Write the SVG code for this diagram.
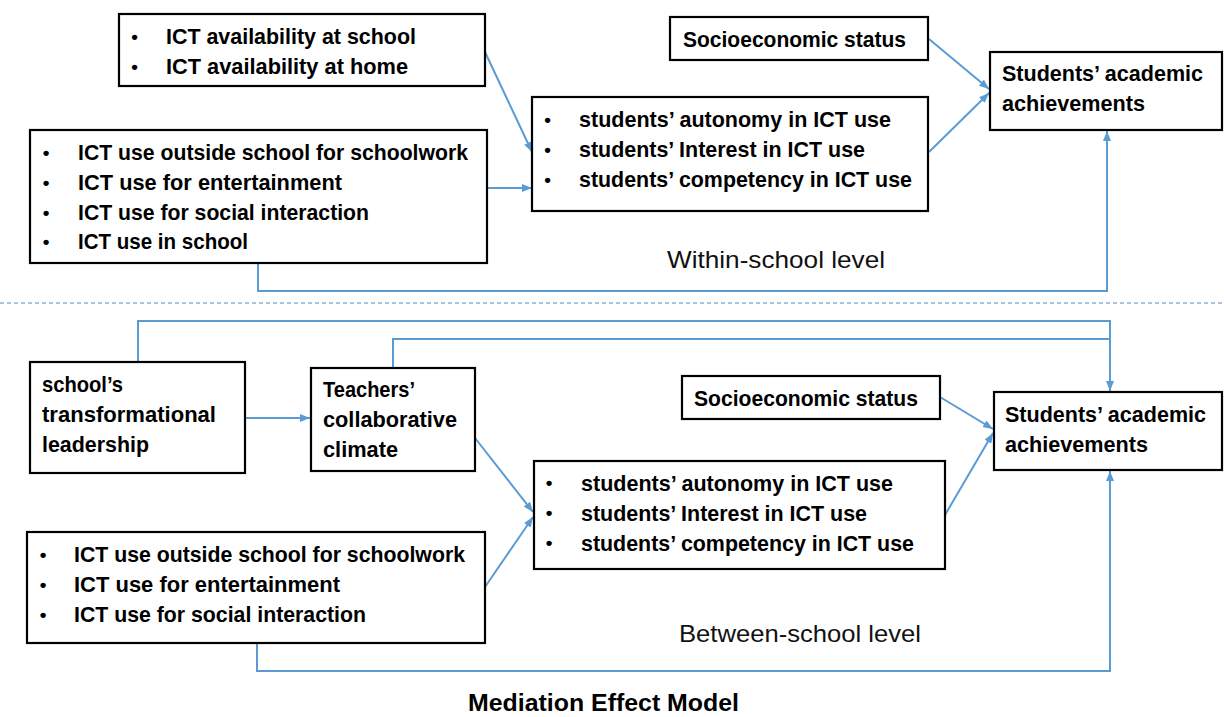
<svg xmlns="http://www.w3.org/2000/svg" width="1224" height="717" viewBox="0 0 1224 717">
<defs>
<style>
.box{fill:#fff;stroke:#000;stroke-width:2.2}
.t{font-family:"Liberation Sans",Arial,sans-serif;font-weight:bold;font-size:22px;fill:#000}
.b{font-family:"Liberation Sans",Arial,sans-serif;font-weight:bold;font-size:19px;fill:#000;text-anchor:middle}
.lvl{font-family:"Liberation Sans",Arial,sans-serif;font-size:24px;fill:#111}
.title{font-family:"Liberation Sans",Arial,sans-serif;font-weight:bold;font-size:23px;fill:#000}
.c{fill:none;stroke:#5B9BD5;stroke-width:2}
.ca{fill:none;stroke:#5B9BD5;stroke-width:2;marker-end:url(#ah)}
</style>
<marker id="ah" markerUnits="userSpaceOnUse" markerWidth="10" markerHeight="8" refX="10" refY="4" orient="auto">
<path d="M0,0 L10,4 L0,8 z" fill="#5B9BD5"/>
</marker>
</defs>
<rect width="1224" height="717" fill="#fff"/>

<line x1="0" y1="303" x2="1224" y2="303" stroke="#8FB0D8" stroke-width="1.5" stroke-dasharray="4 3"/>

<g id="connectors">
<line class="ca" x1="485" y1="52" x2="532" y2="152"/>
<line class="ca" x1="487" y1="188" x2="532" y2="188"/>
<line class="ca" x1="929" y1="39" x2="989" y2="89"/>
<line class="ca" x1="929" y1="152" x2="989" y2="93"/>
<path class="ca" d="M258,263 V291 H1107 V131"/>

<path class="ca" d="M138,362 V321 H1110 V391"/>
<path class="c" d="M393,368 V339 H1110"/>
<line class="ca" x1="245" y1="418" x2="310" y2="418"/>
<line class="ca" x1="475" y1="438" x2="533" y2="512"/>
<line class="ca" x1="485" y1="587" x2="533" y2="517"/>
<line class="ca" x1="940" y1="397" x2="993" y2="429"/>
<line class="ca" x1="945" y1="515" x2="993" y2="433"/>
<path class="ca" d="M257,643 V671 H1110 V471"/>
</g>

<g id="ict-availability">
<rect class="box" x="119" y="14" width="366" height="72"/>
<text class="b" x="134.5" y="43">•</text>
<text class="t" x="166" y="44" textLength="250" lengthAdjust="spacingAndGlyphs">ICT availability at school</text>
<text class="b" x="134.5" y="73">•</text>
<text class="t" x="166" y="74" textLength="242" lengthAdjust="spacingAndGlyphs">ICT availability at home</text>
</g>

<g id="ict-use-within">
<rect class="box" x="30" y="130" width="457" height="133"/>
<text class="b" x="46" y="159">•</text>
<text class="t" x="78" y="160" textLength="390" lengthAdjust="spacingAndGlyphs">ICT use outside school for schoolwork</text>
<text class="b" x="46" y="189">•</text>
<text class="t" x="78" y="190" textLength="264" lengthAdjust="spacingAndGlyphs">ICT use for entertainment</text>
<text class="b" x="46" y="219">•</text>
<text class="t" x="78" y="220" textLength="291" lengthAdjust="spacingAndGlyphs">ICT use for social interaction</text>
<text class="b" x="46" y="248">•</text>
<text class="t" x="78" y="249" textLength="170" lengthAdjust="spacingAndGlyphs">ICT use in school</text>
</g>

<g id="students-ict-within">
<rect class="box" x="532" y="97" width="396" height="114"/>
<text class="b" x="547.5" y="126">•</text>
<text class="t" x="579" y="127" textLength="312" lengthAdjust="spacingAndGlyphs">students’ autonomy in ICT use</text>
<text class="b" x="547.5" y="156">•</text>
<text class="t" x="579" y="157" textLength="286" lengthAdjust="spacingAndGlyphs">students’ Interest in ICT use</text>
<text class="b" x="547.5" y="186">•</text>
<text class="t" x="579" y="187" textLength="333" lengthAdjust="spacingAndGlyphs">students’ competency in ICT use</text>
</g>

<g id="ses-within">
<rect class="box" x="670" y="17" width="258" height="43"/>
<text class="t" x="683" y="47" textLength="223" lengthAdjust="spacingAndGlyphs">Socioeconomic status</text>
</g>

<g id="achievement-within">
<rect class="box" x="990" y="52" width="232" height="78"/>
<text class="t" x="1002" y="81" textLength="201" lengthAdjust="spacingAndGlyphs">Students’ academic</text>
<text class="t" x="1002" y="111" textLength="143" lengthAdjust="spacingAndGlyphs">achievements</text>
</g>

<text class="lvl" x="667" y="268" textLength="218" lengthAdjust="spacingAndGlyphs">Within-school level</text>

<g id="leadership">
<rect class="box" x="30" y="362" width="215" height="111"/>
<text class="t" x="42" y="392" textLength="81" lengthAdjust="spacingAndGlyphs">school’s</text>
<text class="t" x="42" y="422" textLength="174" lengthAdjust="spacingAndGlyphs">transformational</text>
<text class="t" x="42" y="452" textLength="107" lengthAdjust="spacingAndGlyphs">leadership</text>
</g>

<g id="teachers">
<rect class="box" x="311" y="368" width="164" height="103"/>
<text class="t" x="323" y="397" textLength="92" lengthAdjust="spacingAndGlyphs">Teachers’</text>
<text class="t" x="323" y="427" textLength="134" lengthAdjust="spacingAndGlyphs">collaborative</text>
<text class="t" x="323" y="457" textLength="75" lengthAdjust="spacingAndGlyphs">climate</text>
</g>

<g id="ict-use-between">
<rect class="box" x="27" y="532" width="458" height="111"/>
<text class="b" x="43" y="561">•</text>
<text class="t" x="74" y="562" textLength="391" lengthAdjust="spacingAndGlyphs">ICT use outside school for schoolwork</text>
<text class="b" x="43" y="591">•</text>
<text class="t" x="74" y="592" textLength="266" lengthAdjust="spacingAndGlyphs">ICT use for entertainment</text>
<text class="b" x="43" y="621">•</text>
<text class="t" x="74" y="622" textLength="292" lengthAdjust="spacingAndGlyphs">ICT use for social interaction</text>
</g>

<g id="students-ict-between">
<rect class="box" x="534" y="461" width="411" height="108"/>
<text class="b" x="549" y="489">•</text>
<text class="t" x="581" y="491" textLength="312" lengthAdjust="spacingAndGlyphs">students’ autonomy in ICT use</text>
<text class="b" x="549" y="519">•</text>
<text class="t" x="581" y="521" textLength="286" lengthAdjust="spacingAndGlyphs">students’ Interest in ICT use</text>
<text class="b" x="549" y="549">•</text>
<text class="t" x="581" y="551" textLength="333" lengthAdjust="spacingAndGlyphs">students’ competency in ICT use</text>
</g>

<g id="ses-between">
<rect class="box" x="682" y="376" width="258" height="43"/>
<text class="t" x="694" y="406" textLength="224" lengthAdjust="spacingAndGlyphs">Socioeconomic status</text>
</g>

<g id="achievement-between">
<rect class="box" x="994" y="392" width="228" height="78"/>
<text class="t" x="1005" y="422" textLength="201" lengthAdjust="spacingAndGlyphs">Students’ academic</text>
<text class="t" x="1005" y="452" textLength="143" lengthAdjust="spacingAndGlyphs">achievements</text>
</g>

<text class="lvl" x="679" y="642" textLength="242" lengthAdjust="spacingAndGlyphs">Between-school level</text>

<text class="title" x="468" y="711" textLength="271" lengthAdjust="spacingAndGlyphs">Mediation Effect Model</text>
</svg>
